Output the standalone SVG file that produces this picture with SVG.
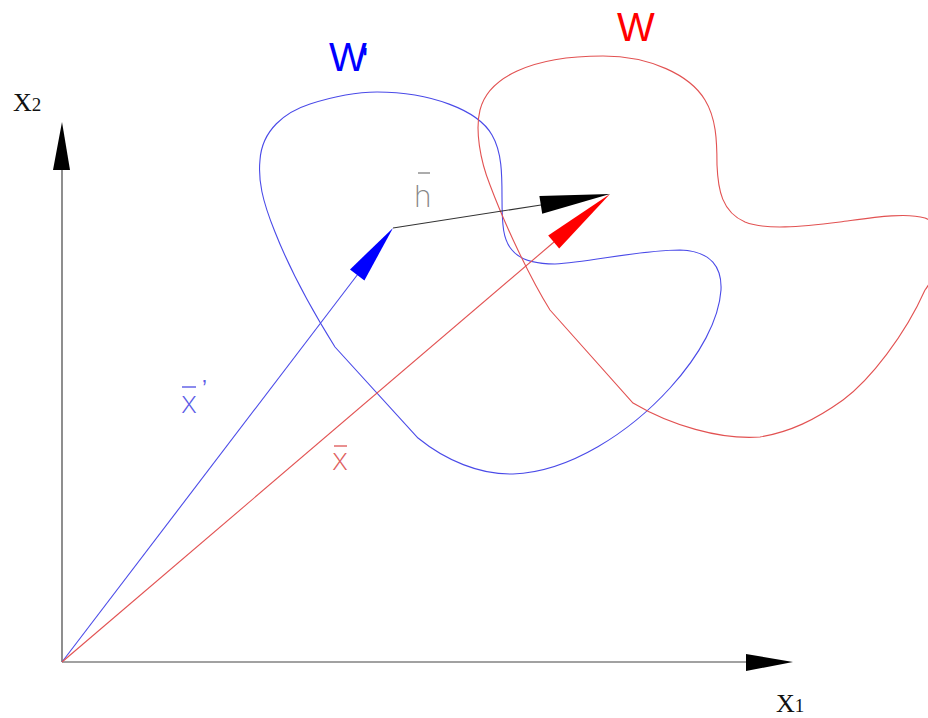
<svg xmlns="http://www.w3.org/2000/svg" width="928" height="718" viewBox="0 0 928 718">
<style>
.axis{stroke:#444;stroke-width:1.2;fill:none}
.blue{stroke:#4a4ae8;stroke-width:1.1;fill:none}
.red{stroke:#e25252;stroke-width:1.1;fill:none}
.blk{stroke:#333;stroke-width:1.1;fill:none}
.serif{font-family:"Liberation Serif","Times New Roman",serif;fill:#111}
.sans{font-family:"Liberation Sans",Arial,sans-serif}
.thin{font-family:"Inter","Liberation Sans",sans-serif;font-weight:200}
</style>
<rect width="928" height="718" fill="#fff"/>
<g id="regionWprime">
<path class="blue" d="M377,92 C430,92 478,110 492,135 C502,152 502,175 502,197 C502,225 503,240 512,250 C520,260 535,264 555,264 C590,262 640,250 680,250 C712,251 722,268 721,290 C719,320 700,355 670,388 C630,432 570,472 513,474 C480,475 445,460 418,438 L335,347 C315,315 290,270 275,232 C262,200 258,180 260,160 C262,130 285,112 310,104 C335,96 355,92 377,92 Z"/>
<text class="sans" x="329" y="71" font-size="40" fill="#0000ff">W<tspan dx="-5" font-size="34">'</tspan></text>
</g>
<g id="regionW">
<path class="red" d="M603,56 C650,56 690,75 705,100 C716,118 717,140 717,165 C718,190 722,212 745,222 C765,230 800,227 840,222 C870,218 905,212 925,218 C950,228 940,270 925,290 C905,335 870,380 843,400 C815,420 790,432 760,437 C720,440 670,425 633,403 L550,310 C530,278 505,225 490,185 C480,160 475,130 480,110 C488,78 530,56 603,56 Z"/>
<text class="sans" x="617" y="41" font-size="40" fill="#ff0000">W</text>
</g>
<g id="axes">
<line class="axis" x1="62" y1="662" x2="62" y2="168"/>
<polygon points="62,122 53,170 70,170" fill="#000"/>
<line class="axis" x1="62" y1="662" x2="748" y2="662"/>
<polygon points="793,662 746,654 746,671" fill="#000"/>
<text class="serif" x="13" y="111" font-size="26">X<tspan font-size="19">2</tspan></text>
<text class="serif" x="776" y="712" font-size="26">X<tspan font-size="19">1</tspan></text>
</g>
<g id="connectors">
<g id="vec-xprime">
<line class="blue" x1="62" y1="662" x2="358" y2="274"/>
<polygon points="393,228 364.4,280.4 350,269.4" fill="#0000ff"/>
<text class="thin" x="181" y="413" font-size="31" fill="#5a5ae6">x</text>
<line x1="182" y1="387" x2="196" y2="387" stroke="#5a5ae6" stroke-width="1.4"/>
<text class="sans" x="202" y="395" font-size="22" fill="#5a5ae6">’</text>
</g>
<g id="vec-x">
<line class="red" x1="62" y1="662" x2="554" y2="242"/>
<polygon points="610,194 559.2,248.6 548.2,235.6" fill="#ff0000"/>
<text class="thin" x="332" y="470" font-size="31" fill="#e06060">x</text>
<line x1="334" y1="446" x2="347" y2="446" stroke="#e06060" stroke-width="1.4"/>
</g>
<g id="vec-h">
<line class="blk" x1="393" y1="228" x2="541" y2="205"/>
<polygon points="610,194 542.2,213.7 539.4,195.9" fill="#000"/>
<text class="thin" x="414" y="207" font-size="30" fill="#888">h</text>
<line x1="418" y1="173" x2="430" y2="173" stroke="#888" stroke-width="1.4"/>
</g>
</g>
</svg>
